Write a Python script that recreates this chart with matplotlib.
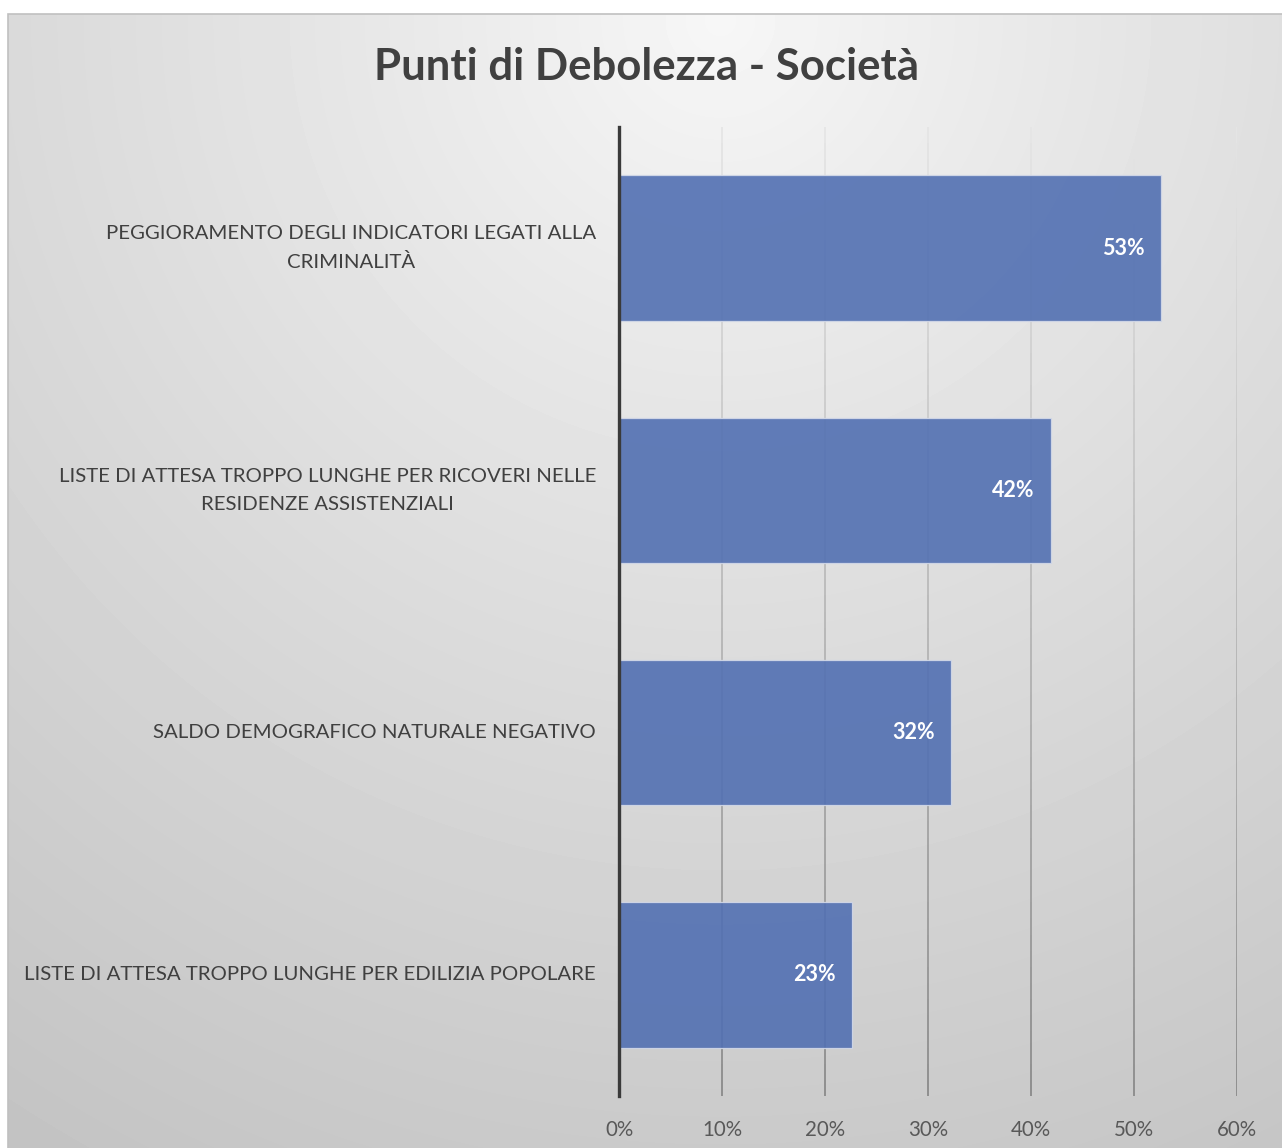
import numpy as np
import matplotlib.pyplot as plt
import matplotlib.transforms as mtransforms
from matplotlib.collections import LineCollection
from matplotlib.patches import Rectangle

plt.rcParams['font.family'] = ['Lato', 'DejaVu Sans']

categories = [
    'PEGGIORAMENTO DEGLI INDICATORI LEGATI ALLA\nCRIMINALITÀ',
    'LISTE DI ATTESA TROPPO LUNGHE PER RICOVERI NELLE\nRESIDENZE ASSISTENZIALI',
    'SALDO DEMOGRAFICO NATURALE NEGATIVO',
    'LISTE DI ATTESA TROPPO LUNGHE PER EDILIZIA POPOLARE',
]
values = [0.526, 0.419, 0.322, 0.226]
xticks = [0, 0.1, 0.2, 0.3, 0.4, 0.5, 0.6]
title = 'Punti di Debolezza - Società'

W, H = 1282, 1148
fig = plt.figure(figsize=(W / 100, H / 100), dpi=100)

# radial grey background of the chart area
bg = fig.add_axes([8 / W, 0, 1 - 8 / W, 1 - 14 / H], zorder=0)
yy, xx = np.mgrid[14:H, 8:W]
d = np.hypot(xx - 720, yy - 20) / 1270
shade = np.clip(247 - 50 * d ** 0.9, 0, 255) / 255
bg.imshow(shade, cmap='gray', vmin=0, vmax=1, aspect='auto',
          extent=[0, 1, 0, 1], interpolation='bilinear')
bg.set_axis_off()
fig.patches.append(Rectangle((8 / W, -0.01), 1, 1 - 14 / H + 0.01,
                             transform=fig.transFigure, fill=False,
                             edgecolor='#c0c0c0', linewidth=1.2, zorder=1))

ax = fig.add_axes([619 / W, 1 - 1096 / H, (1237 - 619) / W, (1096 - 127) / H],
                  zorder=2)
ax.patch.set_alpha(0)

y = np.arange(len(categories))

# vertical gridlines, lighter towards the top
n = 60
ys = np.linspace(1, 0, n + 1)
for t in xticks[1:]:
    segs = [[(t, ys[i]), (t, ys[i + 1])] for i in range(n)]
    g = 0.90 - 0.36 * (1 - (ys[:-1] + ys[1:]) / 2)
    lc = LineCollection(segs, colors=[(v, v, v) for v in g], linewidths=1.3,
                        transform=ax.get_xaxis_transform(), zorder=1)
    ax.add_collection(lc)

ax.barh(y, values, height=0.6, color='#5270b2', alpha=0.9,
        edgecolor='#d3d9e8', linewidth=0.9, zorder=2)

for yi, v in zip(y, values):
    ax.annotate(f'{v:.0%}', xy=(v, yi), xytext=(-16, 0),
                textcoords='offset pixels', ha='right', va='center',
                color='white', fontsize=15.5, fontweight='bold', zorder=3)

ax.set_xlim(0, 0.6)
ax.set_ylim(len(categories) - 0.5, -0.5)
ax.set_xticks(xticks)
ax.set_xticklabels([f'{t:.0%}' for t in xticks], fontsize=14.8, color='#595959')
ax.set_yticks(y)
ax.set_yticklabels([])
ax.tick_params(axis='both', length=0)
ax.tick_params(axis='x', pad=17)

# category labels, right aligned next to the axis
lab_tr = ax.get_yaxis_transform() + mtransforms.ScaledTranslation(
    -23 / 100, 0, fig.dpi_scale_trans)
for yi, cat in zip(y, categories):
    ax.text(0, yi, cat, transform=lab_tr,
            ha='right', va='center', multialignment='center', linespacing=1.75,
            fontsize=14.7, color='#404040')

for s in ['top', 'right', 'bottom']:
    ax.spines[s].set_visible(False)
ax.spines['left'].set_color('#3a3a3a')
ax.spines['left'].set_linewidth(2.4)
ax.spines['left'].set_zorder(4)

fig.text(647 / W, 1 - 67 / H, title, ha='center', va='center',
         fontsize=31.5, fontweight='bold', color='#404040')

fig.savefig('out.png', dpi=100)
